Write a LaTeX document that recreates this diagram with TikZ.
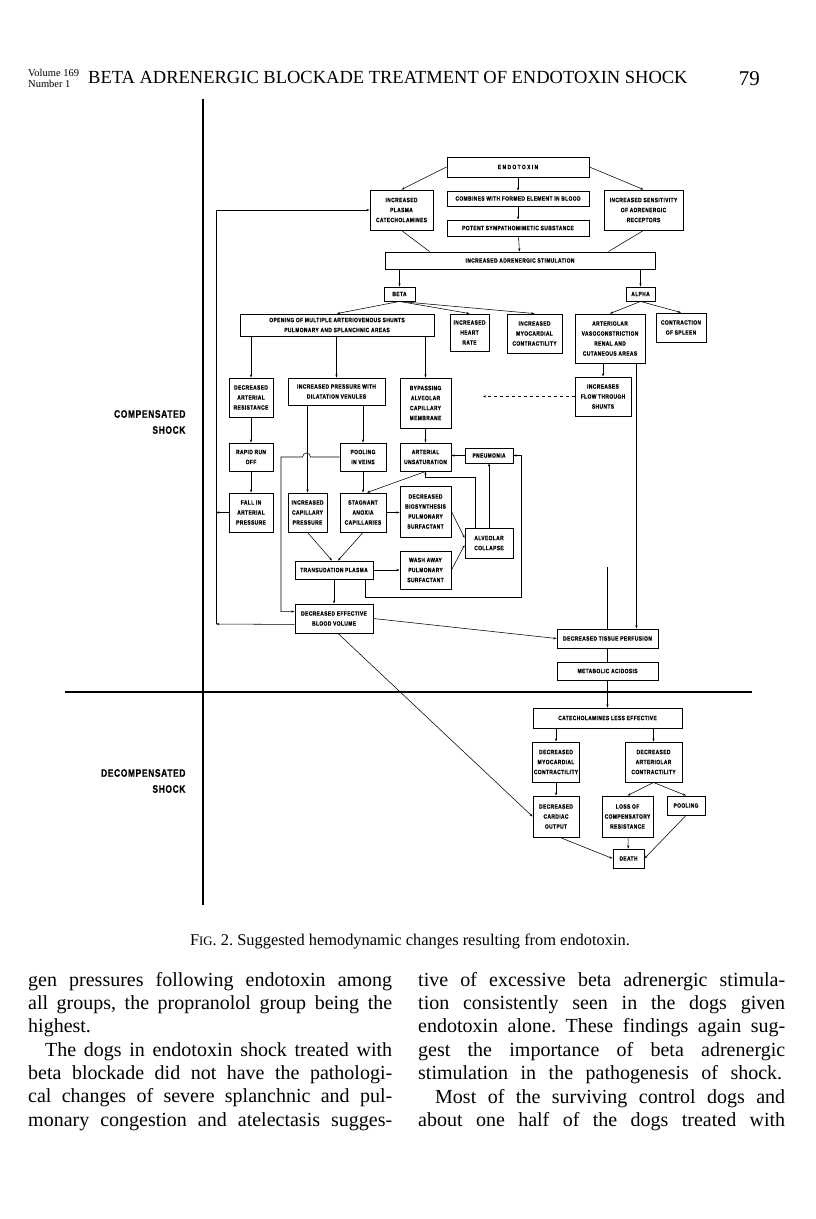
\documentclass[tikz,border=0pt]{standalone}
\usepackage{fontspec}
\setmainfont{Liberation Serif}
\newfontfamily\chartfont{Liberation Sans}[FakeStretch=0.78,LetterSpace=6,FakeBold=0.5]
\usetikzlibrary{arrows.meta,calc}

\tikzset{
  blk/.style={draw, line width=0.9pt, inner sep=1pt, align=center,
    font=\chartfont\bfseries\fontsize{6.3}{10}\selectfont},
  arr/.style={line width=0.55pt, -{Stealth[length=3.2pt,width=2.2pt]}},
  ln/.style={line width=0.55pt},
  axisln/.style={line width=1.1pt},
  lbl/.style={font=\chartfont\bfseries\fontsize{10.8}{16}\selectfont, align=right, anchor=east},
  bodyln/.style={anchor=base west, inner sep=0pt, font=\fontsize{20}{23}\selectfont},
}

\begin{document}
\frenchspacing
\begin{tikzpicture}[x=1pt,y=-1pt]
\fill[white] (0,0) rectangle (816,1219);
\useasboundingbox (0,0) rectangle (816,1219);

% running head
\node[anchor=base west, inner sep=0pt, font=\fontsize{10.5}{11}\selectfont] (vol) at (28,76) {Volume 169};
\node[anchor=base west, inner sep=0pt, font=\fontsize{10.5}{11}\selectfont] (num) at (28,87) {Number 1};
\node[anchor=base west, inner sep=0pt, font=\fontsize{18.5}{20}\selectfont] (head) at (88,83) {BETA ADRENERGIC BLOCKADE TREATMENT OF ENDOTOXIN SHOCK};
\node[anchor=base east, inner sep=0pt, font=\fontsize{21}{22}\selectfont] (folio) at (760,85) {79};

% phase axes
\draw[axisln] (203,99) -- (203,905);
\draw[axisln] (65,692) -- (752,692);
\node[lbl] (comp) at (189,422) {COMPENSATED\\SHOCK};
\node[lbl] (decomp) at (189,781) {DECOMPENSATED\\SHOCK};

% top of the chart
\node[blk, minimum width=142pt, minimum height=20pt] (endo) at (518,167) {{\addfontfeature{LetterSpace=22}ENDOTOXIN}};
\node[blk, minimum width=63pt, minimum height=40pt] (plasma) at (401.5,210) {INCREASED\\PLASMA\\CATECHOLAMINES};
\node[blk, minimum width=142pt, minimum height=15pt] (combines) at (518,198.5) {COMBINES WITH FORMED ELEMENT IN BLOOD};
\node[blk, minimum width=142pt, minimum height=16pt] (potent) at (518,228) {POTENT SYMPATHOMIMETIC SUBSTANCE};
\node[blk, minimum width=79pt, minimum height=40pt] (sensit) at (643.5,210) {INCREASED SENSITIVITY\\OF ADRENERGIC\\RECEPTORS};
\node[blk, minimum width=270pt, minimum height=17pt] (stim) at (520,260.5) {INCREASED ADRENERGIC STIMULATION};
\node[blk, minimum width=31pt, minimum height=14pt] (beta) at (399.5,294) {BETA};
\node[blk, minimum width=29pt, minimum height=14pt] (alpha) at (640.5,294) {ALPHA};

% beta and alpha effects
\node[blk, minimum width=194pt, minimum height=22pt] (opening) at (337,325) {OPENING OF MULTIPLE ARTERIOVENOUS SHUNTS\\PULMONARY AND SPLANCHNIC AREAS};
\node[blk, minimum width=39pt, minimum height=37pt] (heart) at (469.5,332.5) {INCREASED\\HEART\\RATE};
\node[blk, minimum width=55pt, minimum height=39pt] (myo) at (534.5,333.5) {INCREASED\\MYOCARDIAL\\CONTRACTILITY};
\node[blk, minimum width=70pt, minimum height=49pt] (arteriolar) at (610,338.5) {ARTERIOLAR\\VASOCONSTRICTION\\RENAL AND\\CUTANEOUS AREAS};
\node[blk, minimum width=50pt, minimum height=29pt] (spleen) at (681,327.5) {CONTRACTION\\OF SPLEEN};

\node[blk, minimum width=44pt, minimum height=39pt] (decart) at (251,397.5) {DECREASED\\ARTERIAL\\RESISTANCE};
\node[blk, minimum width=97pt, minimum height=27pt] (incpress) at (336.5,391.5) {INCREASED PRESSURE WITH\\DILATATION VENULES};
\node[blk, minimum width=51pt, minimum height=50pt] (bypass) at (425.5,403) {BYPASSING\\ALVEOLAR\\CAPILLARY\\MEMBRANE};
\node[blk, minimum width=56pt, minimum height=39pt] (flow) at (603,396.5) {INCREASES\\FLOW THROUGH\\SHUNTS};

\node[blk, minimum width=44pt, minimum height=28pt] (rapid) at (251,457) {RAPID RUN\\OFF};
\node[blk, minimum width=46pt, minimum height=28pt] (poolv) at (363,457) {POOLING\\IN VEINS};
\node[blk, minimum width=51pt, minimum height=28pt] (unsat) at (425.5,457) {ARTERIAL\\UNSATURATION};
\node[blk, minimum width=48pt, minimum height=15pt] (pneu) at (489,455.5) {PNEUMONIA};

\node[blk, minimum width=44pt, minimum height=39pt] (fall) at (251,512.5) {FALL IN\\ARTERIAL\\PRESSURE};
\node[blk, minimum width=39pt, minimum height=39pt] (capp) at (307.5,512.5) {INCREASED\\CAPILLARY\\PRESSURE};
\node[blk, minimum width=46pt, minimum height=39pt] (stag) at (363,512.5) {STAGNANT\\ANOXIA\\CAPILLARIES};
\node[blk, minimum width=51pt, minimum height=51pt] (biosyn) at (425.5,511.5) {DECREASED\\BIOSYNTHESIS\\PULMONARY\\SURFACTANT};
\node[blk, minimum width=48pt, minimum height=30pt] (alvcol) at (489,543) {ALVEOLAR\\COLLAPSE};
\node[blk, minimum width=78pt, minimum height=18pt] (transud) at (334,570) {TRANSUDATION PLASMA};
\node[blk, minimum width=51pt, minimum height=38pt] (wash) at (425.5,570) {WASH AWAY\\PULMONARY\\SURFACTANT};
\node[blk, minimum width=78pt, minimum height=29pt] (bloodvol) at (334,618.5) {DECREASED EFFECTIVE\\BLOOD VOLUME};

\node[blk, minimum width=101pt, minimum height=19pt] (perf) at (607.5,638.5) {DECREASED TISSUE PERFUSION};
\node[blk, minimum width=101pt, minimum height=18pt] (acid) at (607.5,671) {METABOLIC ACIDOSIS};

% decompensated part
\node[blk, minimum width=149pt, minimum height=20pt] (catless) at (607.5,718) {CATECHOLAMINES LESS EFFECTIVE};
\node[blk, minimum width=46pt, minimum height=40pt] (decmyo) at (556,762) {DECREASED\\MYOCARDIAL\\CONTRACTILITY};
\node[blk, minimum width=57pt, minimum height=40pt] (decartc) at (653.5,762) {DECREASED\\ARTERIOLAR\\CONTRACTILITY};
\node[blk, minimum width=46pt, minimum height=41pt] (cardiac) at (556,816.5) {DECREASED\\CARDIAC\\OUTPUT};
\node[blk, minimum width=51pt, minimum height=41pt] (loss) at (627.5,816.5) {LOSS OF\\COMPENSATORY\\RESISTANCE};
\node[blk, minimum width=38pt, minimum height=19pt] (pooling) at (686,805.5) {POOLING};
\node[blk, minimum width=31pt, minimum height=19pt] (death) at (628.5,858.5) {DEATH};

% free ends and bends
\coordinate (loopL) at (216,624);
\coordinate (loopT) at (216,210);
\coordinate (poolL) at (281,457);
\coordinate (loopR) at (521,597);
\coordinate (dashend) at (483,396.5);
\coordinate (stub) at (607.5,567);

% connectors, top
\draw[arr] (endo.west) -- (plasma.north);
\draw[arr] (endo.east) -- (sensit.north);
\draw[arr] (endo) -- (combines);
\draw[arr] (combines) -- (potent);
\draw[ln] (plasma.south) -- ($(stim.north west)+(45,0)$);
\draw[arr] (potent) -- (stim);
\draw[ln] (sensit.south) -- ($(stim.north east)+(-47,0)$);
\draw[arr] (stim.south -| beta) -- (beta.north);
\draw[arr] (stim.south -| alpha) -- (alpha.north);
\draw[arr] (beta.south) -- (opening.north);
\draw[arr] (beta.south) -- (heart.north);
\draw[arr] (beta.south) -- (myo.north);
\draw[arr] (alpha.south) -- (arteriolar.north);
\draw[arr] (alpha.south) -- (spleen.north);

% connectors, middle
\draw[arr] (opening.south -| decart) -- (decart.north);
\draw[arr] (opening.south -| incpress) -- (incpress.north);
\draw[arr] (opening.south -| bypass) -- (bypass.north);
\draw[arr] (flow.north |- arteriolar.south) -- (flow.north);
\draw[arr] ($(arteriolar.south east)+(-9,0)$) -- ($(perf.north east)+(-22,0)$);
\draw[ln] (stub) -- (perf.north);
\draw[arr, dashed] (flow.west) -- (dashend);
\draw[arr] (decart) -- (rapid);
\draw[arr] (rapid) -- (fall);
\draw[arr] (fall.west) -- (fall.west -| loopL);
\draw[arr] ($(bloodvol.south west)+(0,-9)$) -- (loopL);
\draw[arr] (loopL) -- (loopT) -- (plasma.west);
\draw[arr] (incpress.south -| poolv) -- (poolv.north);
\draw[arr] (incpress.south -| capp) -- (capp.north);
\draw[arr] (poolv.west) -- ++(-29,0) arc[start angle=0, end angle=-180, radius=4] -- (poolL) -- (poolL |- {$(bloodvol.north west)+(0,8)$}) -- ($(bloodvol.north west)+(0,8)$);
\draw[arr] (poolv) -- (stag);
\draw[arr] (bypass) -- (unsat);
\draw[arr] (unsat.south) -- ($(stag.north)+(4,0)$);
\draw[arr] (pneu.west) -- (pneu.west -| unsat.east);
\draw[arr] (alvcol.north) -- (pneu.south);
\draw[arr] ($(alvcol.north west)+(11,0)$) -- ++(0,-50) -| (unsat.south);
\draw[arr] (stag.east) -- (stag.east -| biosyn.west);
\draw[arr] (biosyn.east) -- ($(alvcol.west)+(0,-5)$);
\draw[arr] (wash.east) -- ($(alvcol.west)+(0,2)$);
\draw[arr] (capp.south) -- ($(transud.north)+(-2,0)$);
\draw[arr] (stag.south) -- ($(transud.north)+(4,0)$);
\draw[arr] (transud.east) -- (wash.west);
\draw[arr] (transud) -- (bloodvol);
\draw[arr] ($(transud.south east)+(-8,0)$) |- (loopR) |- (pneu.east);
\draw[arr] (bloodvol.east) -- (perf.west);
\draw[arr] ($(bloodvol.south)+(4,0)$) -- (cardiac.west);

% connectors, bottom
\draw[ln] (perf.south -| acid) -- (acid.north);
\draw[arr] (acid) -- (catless);
\draw[arr] (catless.south -| decmyo) -- (decmyo.north);
\draw[arr] (catless.south -| decartc) -- (decartc.north);
\draw[arr] (decmyo) -- (cardiac);
\draw[arr] (decartc.south) -- (loss.north);
\draw[arr] (decartc.south) -- (pooling.north);
\draw[arr] ($(cardiac.south)+(4,0)$) -- (death.west);
\draw[arr] (loss) -- (death);
\draw[arr] (pooling.south) -- (death.east);

% caption
\node[anchor=base, inner sep=0pt, font=\fontsize{16.4}{18}\selectfont] (caption) at (410,945) {F{\fontsize{12.8}{14}\selectfont IG}. 2. Suggested hemodynamic changes resulting from endotoxin.};

% body text
\node[bodyln] (l1) at (28,986) {\makebox[364pt][s]{gen pressures following endotoxin among}};
\node[bodyln] (l2) at (28,1009) {\makebox[364pt][s]{all groups, the propranolol group being the}};
\node[bodyln] (l3) at (28,1032) {highest.};
\node[bodyln] (l4) at (45,1056) {\makebox[347pt][s]{The dogs in endotoxin shock treated with}};
\node[bodyln] (l5) at (28,1079) {\makebox[364pt][s]{beta blockade did not have the pathologi-}};
\node[bodyln] (l6) at (28,1102) {\makebox[364pt][s]{cal changes of severe splanchnic and pul-}};
\node[bodyln] (l7) at (28,1126) {\makebox[364pt][s]{monary congestion and atelectasis sugges-}};
\node[bodyln] (r1) at (418,986) {\makebox[367pt][s]{tive of excessive beta adrenergic stimula-}};
\node[bodyln] (r2) at (418,1009) {\makebox[367pt][s]{tion consistently seen in the dogs given}};
\node[bodyln] (r3) at (418,1032) {\makebox[367pt][s]{endotoxin alone. These findings again sug-}};
\node[bodyln] (r4) at (418,1056) {\makebox[367pt][s]{gest the importance of beta adrenergic}};
\node[bodyln] (r5) at (418,1079) {\makebox[364pt][s]{stimulation in the pathogenesis of shock.}};
\node[bodyln] (r6) at (435,1103) {\makebox[350pt][s]{Most of the surviving control dogs and}};
\node[bodyln] (r7) at (418,1126) {\makebox[367pt][s]{about one half of the dogs treated with}};
\end{tikzpicture}
\end{document}
